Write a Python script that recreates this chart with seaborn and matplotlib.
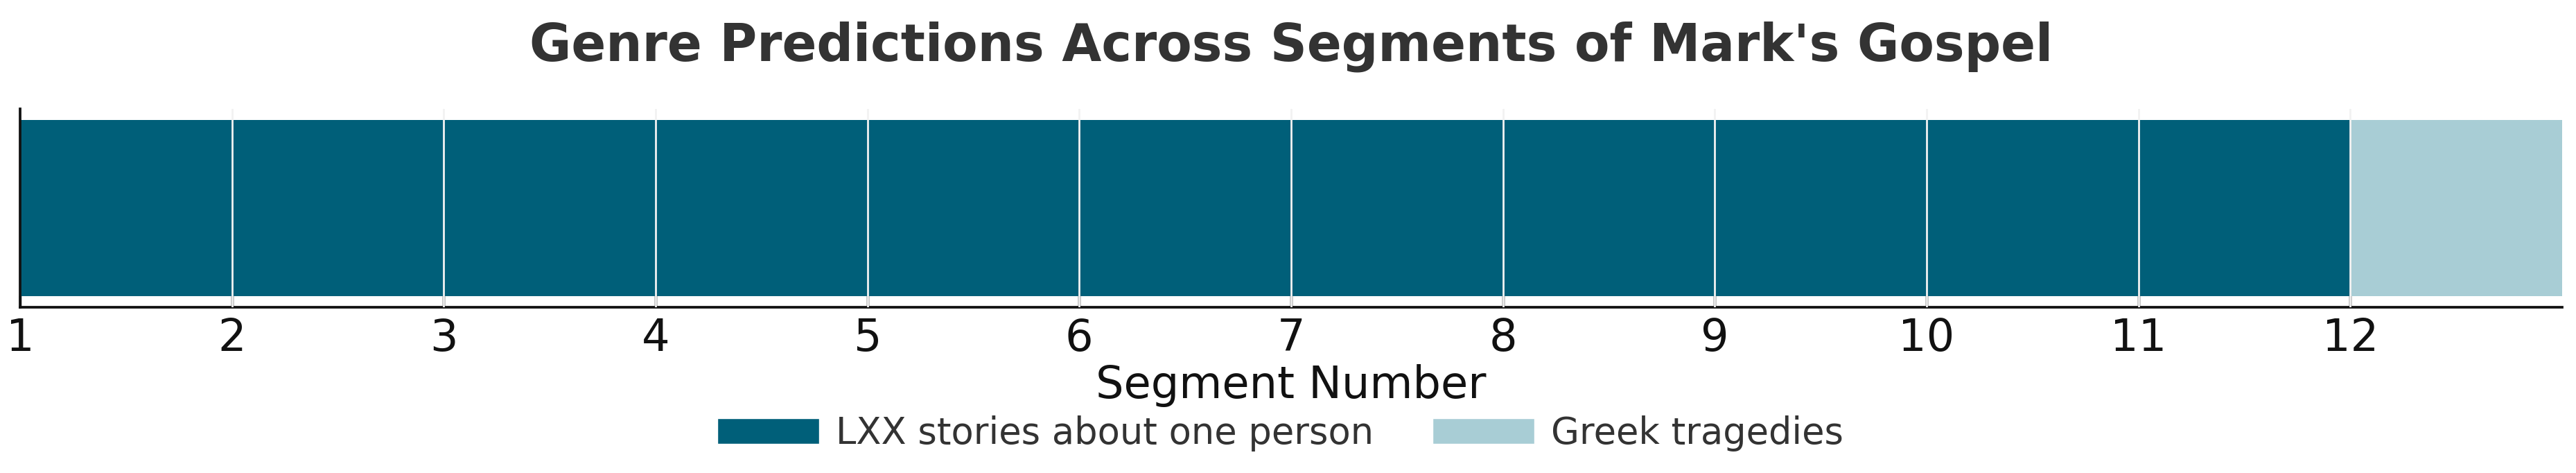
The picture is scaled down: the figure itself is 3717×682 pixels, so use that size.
import numpy as np
import pandas as pd
import seaborn as sns
import matplotlib.pyplot as plt
from matplotlib.patches import Patch

# segment -> predicted genre
segments = [1, 2, 3, 4, 5, 6, 7, 8, 9, 10, 11, 12]
genres = ["LXX stories about one person"] * 11 + ["Greek tragedies"]
genre_order = ["LXX stories about one person", "Greek tragedies"]
genre_colors = ["#005F79", "#A8CDD5"]

df = pd.DataFrame({"segment": segments, "genre": genres})
palette = dict(zip(genre_order, genre_colors))

sns.set_style("ticks")
plt.rcParams['font.family'] = ['DejaVu Sans Condensed', 'DejaVu Sans']

fig, ax = plt.subplots(figsize=(37.17, 6.82), dpi=100)
fig.subplots_adjust(left=0.0078, right=0.9946, bottom=0.350, top=0.770)

ax.barh(y=np.zeros(len(df)), width=1, left=df.segment, height=0.8,
        color=df.genre.map(palette), align='center', linewidth=0)

# white separators between segments
for s in df.segment[1:]:
    ax.axvline(s, color='#F2F2F2', linestyle='-', linewidth=2.0, zorder=3)

ax.set_xlim(1, 13)
ax.set_ylim(-0.452, 0.452)
ax.set_xticks(segments)
ax.set_yticks([])
ax.tick_params(axis='x', direction='in', length=12, width=2.5, pad=10,
               labelsize=46, colors='#111111')
sns.despine(ax=ax, top=True, right=True)
for sp in ['left', 'bottom']:
    ax.spines[sp].set_linewidth(2.7)
    ax.spines[sp].set_color('#111111')

ax.set_xlabel("Segment Number", fontsize=46, labelpad=4, color='#111111')
ax.set_title("Genre Predictions Across Segments of Mark's Gospel",
             fontsize=53, fontweight='bold', color='#333333', pad=50)

handles = [Patch(facecolor=c, label=g) for g, c in zip(genre_order, genre_colors)]
fig.legend(handles=handles, loc='center', bbox_to_anchor=(0.497, 0.084), ncol=2,
           frameon=False, fontsize=38, handlelength=2.8, handleheight=0.7,
           handletextpad=0.45, columnspacing=1.6, labelcolor='#333333')

fig.savefig("out.png", dpi=100)
